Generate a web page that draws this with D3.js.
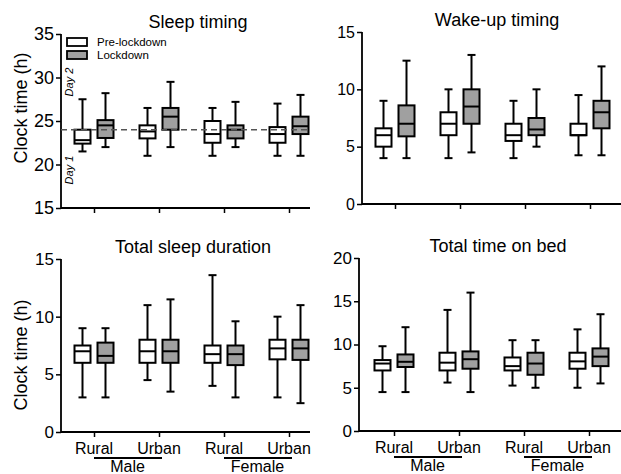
<!DOCTYPE html>
<html>
<head>
<meta charset="utf-8">
<script src="https://cdn.jsdelivr.net/npm/d3@7"></script>
<style>
  body { margin: 0; background: #fff; }
  svg { font-family: "Liberation Sans", Arial, sans-serif; }
</style>
</head>
<body>
<svg id="chart" width="621" height="474"></svg>
<script>
// groups along the x axis (same in every panel)
const groups = ["Rural Male", "Urban Male", "Rural Female", "Urban Female"];
const conditions = ["Pre-lockdown", "Lockdown"];

// box stats per group: [min, q1, median, q3, max]
const sleepPre  = [[21.5, 22.4, 22.8, 24.0, 27.5], [21, 23.0, 23.8, 24.5, 26.5], [21, 22.5, 23.5, 25.0, 26.5], [21, 22.5, 23.5, 24.3, 27]];
const sleepLock = [[22, 23.05, 24.5, 25.1, 28.2], [22, 24.0, 25.5, 26.5, 29.5], [22, 23.0, 24.0, 24.5, 27.2], [21, 23.5, 24.4, 25.5, 28]];

const wakePre  = [[4, 5, 6, 6.6, 9], [4, 6, 7, 8, 10], [4, 5.5, 6, 7, 9], [4.25, 6, 6, 7, 9.5]];
const wakeLock = [[4, 5.9, 7, 8.6, 12.5], [4.5, 7, 8.5, 10, 13], [5, 6, 6.5, 7.5, 10], [4.25, 6.6, 8, 9, 12]];

const durPre  = [[3, 6, 7, 7.5, 9], [4.5, 6, 7, 8, 11], [4, 6, 6.75, 7.5, 13.6], [3, 6.3, 7.25, 8, 10]];
const durLock = [[3, 6, 6.6, 7.75, 9], [3.5, 6, 7, 8, 11.5], [3, 5.8, 6.75, 7.5, 9.6], [2.5, 6.25, 7.25, 8, 11]];

const bedPre  = [[4.5, 7, 7.8, 8.2, 9.8], [5.6, 7, 7.9, 9.05, 14], [5.25, 7, 7.5, 8.5, 10.5], [5, 7.2, 8.05, 9.05, 11.75]];
const bedLock = [[4.5, 7.4, 8, 8.85, 12], [4.5, 7.2, 8.3, 9.2, 16], [5, 6.5, 7.8, 9.05, 10.5], [5.5, 7.5, 8.6, 9.55, 13.5]];

const sleepTicks = [15, 20, 25, 30, 35];
const wakeTicks = [0, 5, 10, 15];
const durTicks = [0, 5, 10, 15];
const bedTicks = [0, 5, 10, 15, 20];

const colors = {"Pre-lockdown": "#ffffff", "Lockdown": "#a0a0a0"};

const svg = d3.select("#chart");

function drawPanel(p) {
    const g = svg.append("g");

    const x = d3.scalePoint().domain(groups).range([p.x0, p.x1]);
    const y = d3.scaleLinear().domain(p.domain).range([p.bottom, p.top]);
    const off = d3.scalePoint().domain(conditions).range([-11.5, 11.5]);
    const bw = 16;

    // y axis
    const ya = g.append("g")
        .attr("transform", `translate(${p.left},0)`)
        .call(d3.axisLeft(y).tickValues(p.ticks).tickSize(5).tickPadding(2).tickSizeOuter(0));
    ya.select(".domain").remove();
    ya.selectAll("line").attr("stroke", "#000").attr("stroke-width", 1.5);
    ya.selectAll("text").attr("font-size", p.tickFont).attr("fill", "#000")
        .attr("font-family", "'Liberation Sans', Arial, sans-serif");

    // x axis
    const xa = g.append("g")
        .attr("transform", `translate(0,${p.bottom})`)
        .call(d3.axisBottom(x).tickSize(5).tickFormat(""));
    xa.select(".domain").remove();
    xa.selectAll("line").attr("stroke", "#000").attr("stroke-width", 1.5);

    g.append("path")
        .attr("d", `M${p.left},${p.top}V${p.bottom}H${p.right}`)
        .attr("fill", "none").attr("stroke", "#000").attr("stroke-width", 1.8);

    // title
    g.append("text")
        .attr("x", p.titleX).attr("y", p.top - 6)
        .attr("text-anchor", "middle").attr("font-size", 18)
        .text(p.title);

    // boxes
    const series = [[conditions[0], p.pre], [conditions[1], p.lock]];
    series.forEach(([cond, stats]) => {
        const bg = g.append("g").selectAll("g")
            .data(stats.map((s, i) => ({grp: groups[i], s: s})))
            .join("g")
            .attr("transform", d => `translate(${x(d.grp) + off(cond)},0)`);

        bg.append("line")
            .attr("y1", d => y(d.s[0])).attr("y2", d => y(d.s[4]))
            .attr("stroke", "#000").attr("stroke-width", 2);
        bg.selectAll(".cap")
            .data(d => [d.s[0], d.s[4]])
            .join("line").attr("class", "cap")
            .attr("x1", -4).attr("x2", 4)
            .attr("y1", v => y(v)).attr("y2", v => y(v))
            .attr("stroke", "#000").attr("stroke-width", 2);
        bg.append("rect")
            .attr("x", -bw / 2).attr("width", bw)
            .attr("y", d => y(d.s[3]))
            .attr("height", d => y(d.s[1]) - y(d.s[3]))
            .attr("fill", colors[cond])
            .attr("stroke", "#000").attr("stroke-width", 2);
        bg.append("line")
            .attr("x1", -bw / 2).attr("x2", bw / 2)
            .attr("y1", d => y(d.s[2])).attr("y2", d => y(d.s[2]))
            .attr("stroke", "#000").attr("stroke-width", 2);
    });

    // y label
    if (p.ylabel) {
        g.append("text")
            .attr("transform", `translate(27,${p.ylabelY}) rotate(-90)`)
            .attr("text-anchor", "middle").attr("font-size", 18)
            .text(p.ylabel);
    }

    // category labels
    if (p.catLabels) {
        const subs = ["Rural", "Urban", "Rural", "Urban"];
        g.selectAll(".sub").data(groups).join("text")
            .attr("x", d => x(d)).attr("y", p.bottom + 22)
            .attr("text-anchor", "middle").attr("font-size", 16)
            .text((d, i) => subs[i]);
        [["Male", groups[0], groups[1]], ["Female", groups[2], groups[3]]].forEach(([lab, a, b]) => {
            g.append("line")
                .attr("x1", x(a)).attr("x2", x(b) + 3)
                .attr("y1", p.bottom + 26).attr("y2", p.bottom + 26)
                .attr("stroke", "#000").attr("stroke-width", 1.8);
            g.append("text")
                .attr("x", (x(a) + x(b)) / 2 + 1).attr("y", p.bottom + 40)
                .attr("text-anchor", "middle").attr("font-size", 16)
                .text(lab);
        });
    }
    return {g, x, y};
}

const p1 = drawPanel({title: "Sleep timing", titleX: 198, left: 61, right: 310, top: 34, bottom: 208,
    x0: 94, x1: 289, domain: [15, 35], ticks: sleepTicks, tickFont: 18,
    pre: sleepPre, lock: sleepLock, ylabel: "Clock time (h)", ylabelY: 108});

// 24 h reference line
p1.g.append("line")
    .attr("x1", 61).attr("x2", 310)
    .attr("y1", p1.y(24)).attr("y2", p1.y(24))
    .attr("stroke", "#555").attr("stroke-width", 1.5).attr("stroke-dasharray", "6,4");

[["Day 2", 82], ["Day 1", 170]].forEach(([t, cy]) => {
    p1.g.append("text")
        .attr("transform", `translate(73,${cy}) rotate(-90)`)
        .attr("text-anchor", "middle").attr("font-size", 11).attr("font-style", "italic")
        .text(t);
});

// legend
const leg = p1.g.append("g");
conditions.forEach((c, i) => {
    leg.append("rect").attr("x", 67).attr("y", 38 + i * 13).attr("width", 20).attr("height", 8)
        .attr("fill", colors[c]).attr("stroke", "#000").attr("stroke-width", 1.8);
    leg.append("text").attr("x", 97).attr("y", 46 + i * 13).attr("font-size", 11.5).text(c);
});

drawPanel({title: "Wake-up timing", titleX: 497, left: 362, right: 621, top: 32, bottom: 204,
    x0: 395, x1: 590, domain: [0, 15], ticks: wakeTicks, tickFont: 16,
    pre: wakePre, lock: wakeLock});

drawPanel({title: "Total sleep duration", titleX: 193, left: 61, right: 310, top: 259, bottom: 432,
    x0: 94, x1: 289, domain: [0, 15], ticks: durTicks, tickFont: 17,
    pre: durPre, lock: durLock, ylabel: "Clock time (h)", ylabelY: 355, catLabels: true});

drawPanel({title: "Total time on bed", titleX: 498, left: 359, right: 621, top: 258, bottom: 431,
    x0: 394, x1: 589, domain: [0, 20], ticks: bedTicks, tickFont: 17,
    pre: bedPre, lock: bedLock, catLabels: true});
</script>
</body>
</html>
